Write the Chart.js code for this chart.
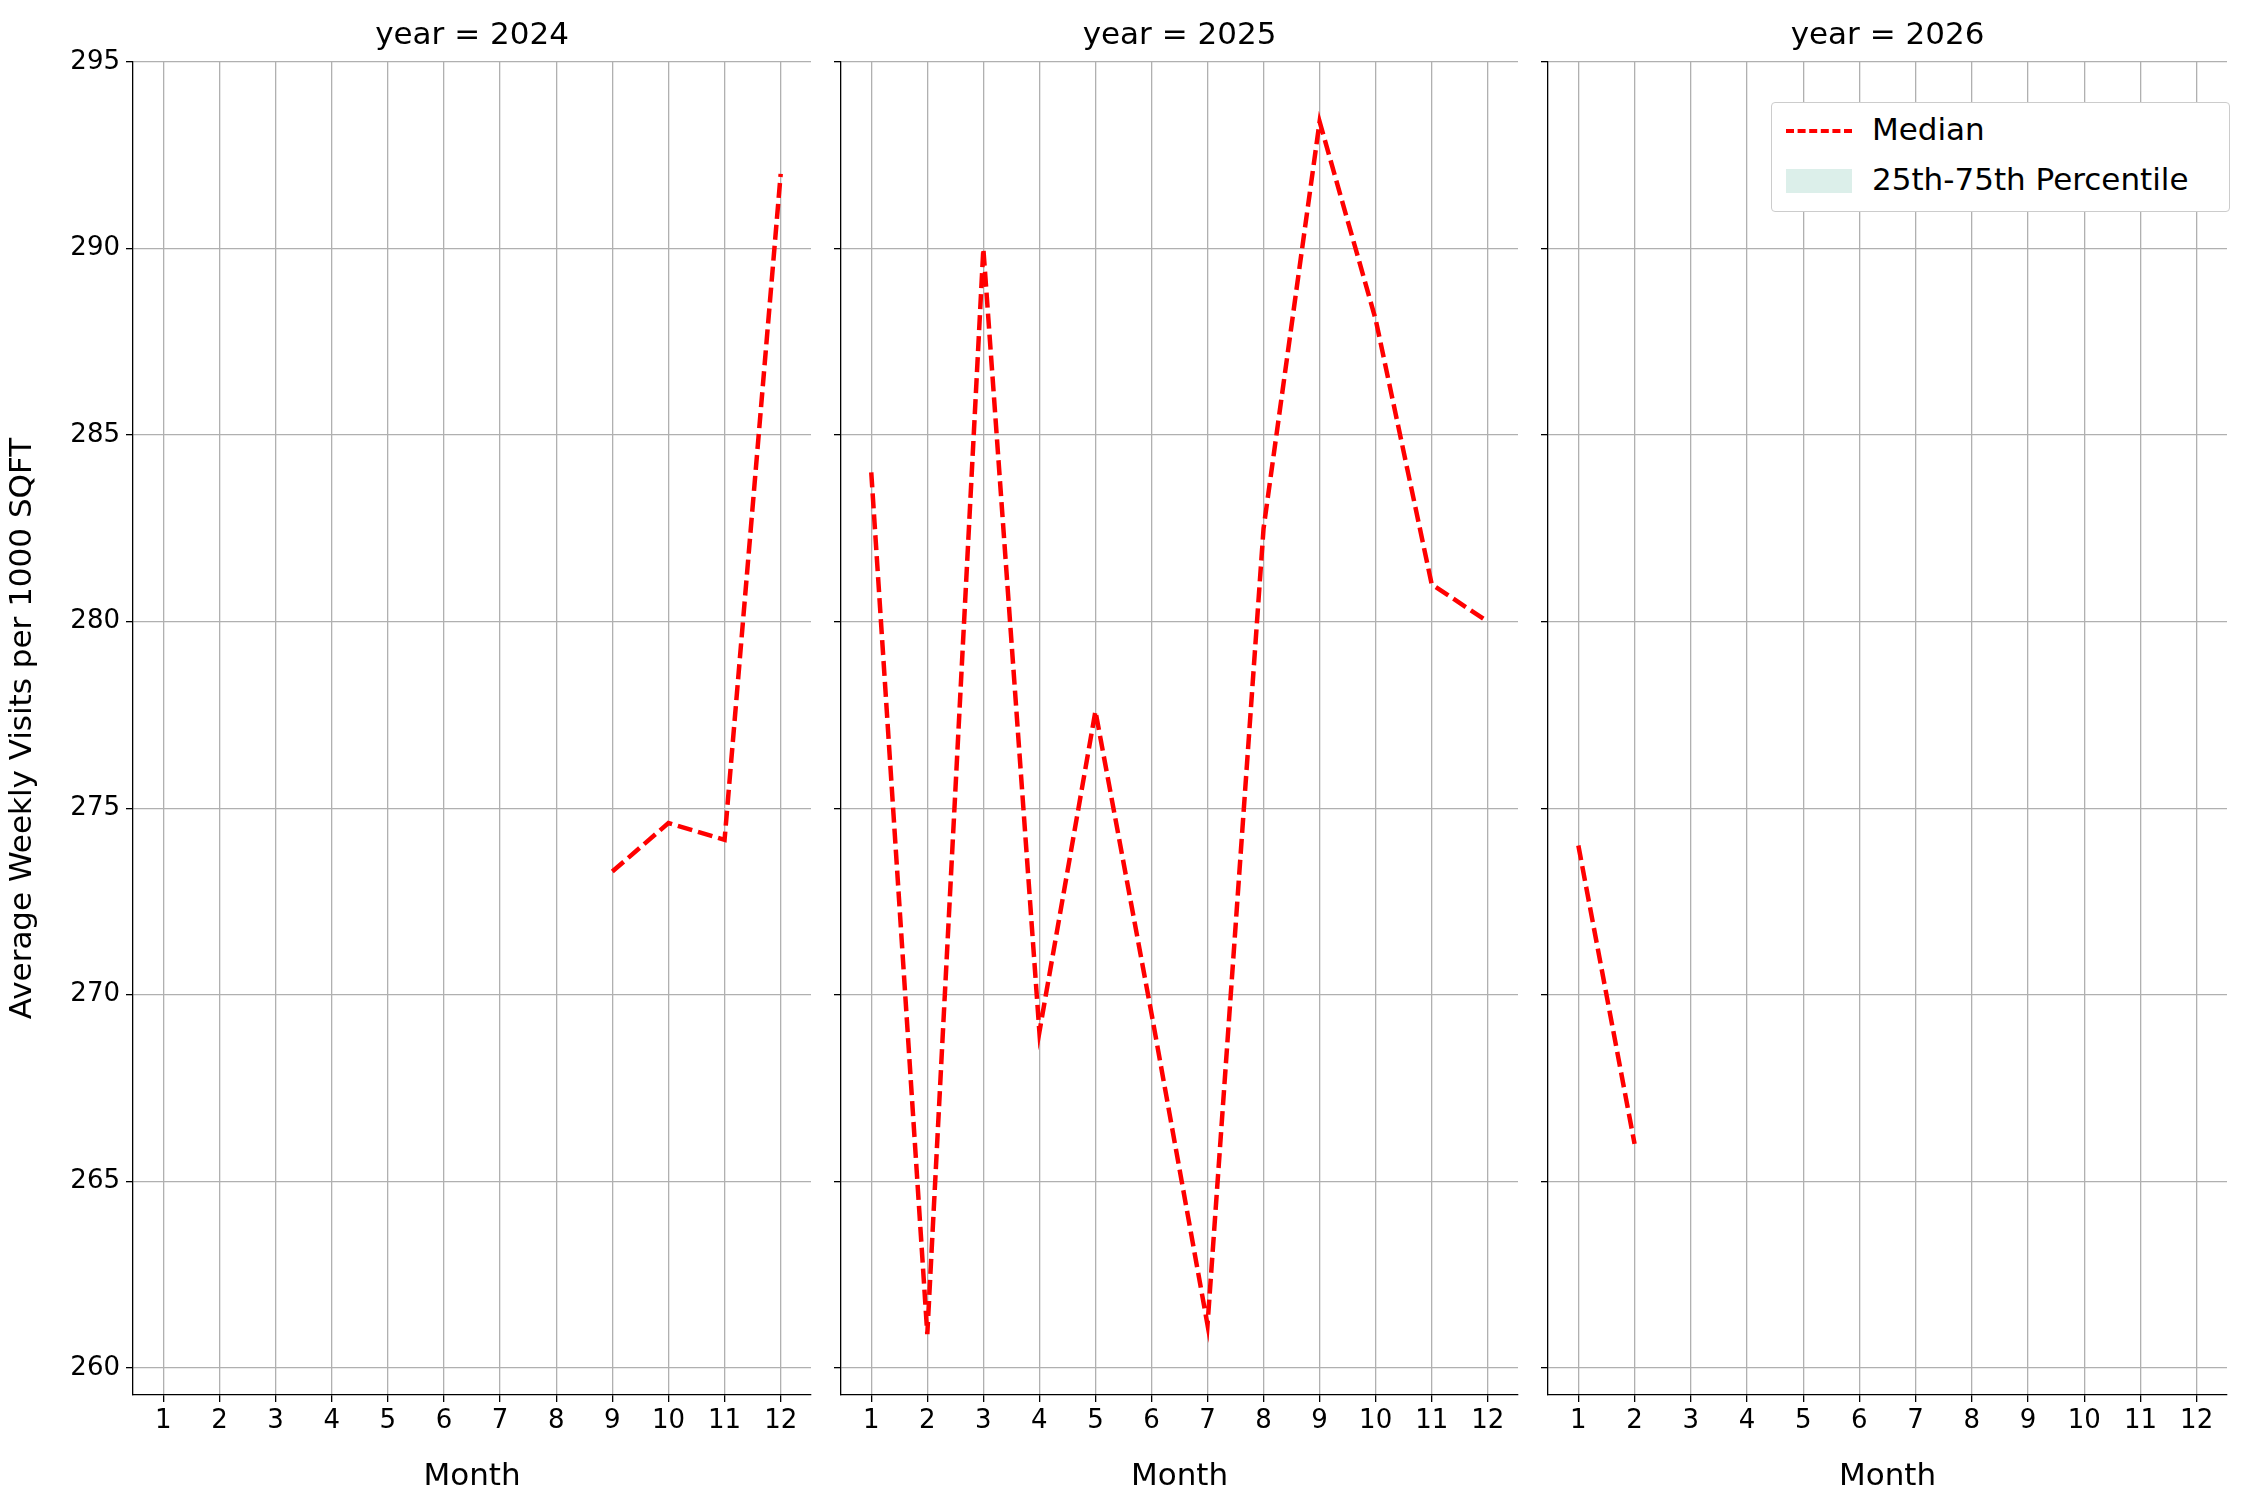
<!DOCTYPE html>
<html><head><meta charset="utf-8">
<script src="https://cdn.jsdelivr.net/npm/chart.js@4"></script>
<style>
body{margin:0;width:2250px;height:1500px;background:#fff;position:relative;font-family:"DejaVu Sans",sans-serif;overflow:hidden}
canvas{position:absolute;top:0}
.t{position:absolute;top:15px;font-size:31px;color:#000;text-align:center}
#leg{position:absolute;left:1771px;top:102px;width:457px;height:108px;border:1px solid #ccc;border-radius:4px;background:#fff;font-size:31px}
</style></head><body>
<canvas id="c0"></canvas><canvas id="c1"></canvas><canvas id="c2"></canvas>
<div class="t" style="left:133px;width:678px">year = 2024</div>
<div class="t" style="left:841px;width:677px">year = 2025</div>
<div class="t" style="left:1548px;width:679px">year = 2026</div>
<div id="leg">
<div style="position:absolute;left:14px;top:26px;width:66px;border-top:4px dashed red"></div>
<div style="position:absolute;left:100px;top:8px">Median</div>
<div style="position:absolute;left:14px;top:66px;width:66px;height:24px;background:#dcefea"></div>
<div style="position:absolute;left:100px;top:58px">25th-75th Percentile</div>
</div>
<script>
const years=["2024","2025","2026"];
const months2024=[9,10,11,12];
const median2024=[273.3,274.6,274.15,292.0];
const months2025=[1,2,3,4,5,6,7,8,9,10,11,12];
const median2025=[284.0,260.9,290.0,269.0,277.6,269.5,261.15,282.5,293.4,288.1,281.0,280.0];
const months2026=[1,2];
const median2026=[274.0,266.0];
const xTicks=[1,2,3,4,5,6,7,8,9,10,11,12];
const yTicks=[260,265,270,275,280,285,290,295];

const panels=[
 {m:months2024,v:median2024,left:133,right:811,yw:133,labels:true},
 {m:months2025,v:median2025,left:841,right:1518,yw:30,labels:false},
 {m:months2026,v:median2026,left:1548,right:2227,yw:30,labels:false}];
panels.forEach((p,i)=>{
 const c=document.getElementById('c'+i);
 const w=p.right-(p.left-p.yw)+2;
 c.style.left=(p.left-p.yw)+'px';c.style.width=w+'px';c.style.height='1500px';
 c.width=w;c.height=1500;
 new Chart(c,{type:'line',
  data:{datasets:[{label:'Median',data:p.m.map((x,k)=>({x:x,y:p.v[k]})),borderColor:'red',borderWidth:4.5,borderDash:[15,6],pointRadius:0,fill:false,tension:0}]},
  options:{responsive:false,animation:false,devicePixelRatio:1,
   layout:{padding:{top:62,right:2,left:0,bottom:0}},
   plugins:{legend:{display:false},title:{display:false},tooltip:{enabled:false}},
   scales:{
    x:{type:'linear',min:0.46,max:12.54,
     afterBuildTicks:s=>{s.ticks=xTicks.map(v=>({value:v}))},
     afterFit:s=>{s.height=105},
     ticks:{color:'#000',font:{size:26,family:'DejaVu Sans'},padding:4},
     grid:{color:'#b0b0b0',lineWidth:1.3,tickLength:7,tickColor:'#000'},
     border:{color:'#000',width:1.3},
     title:{display:true,text:'Month',color:'#000',font:{size:31,family:'DejaVu Sans'},padding:{top:0}}},
    y:{type:'linear',min:259.27,max:295,
     afterBuildTicks:s=>{s.ticks=yTicks.map(v=>({value:v}))},
     afterFit:s=>{s.width=p.yw},
     ticks:{display:p.labels,color:'#000',font:{size:26,family:'DejaVu Sans'},padding:6},
     grid:{color:'#b0b0b0',lineWidth:1.3,tickLength:7,tickColor:'#000'},
     border:{color:'#000',width:1.3},
     title:{display:p.labels,text:'Average Weekly Visits per 1000 SQFT',color:'#000',font:{size:31,family:'DejaVu Sans'},padding:{bottom:10}}}}}});
});
</script></body></html>
